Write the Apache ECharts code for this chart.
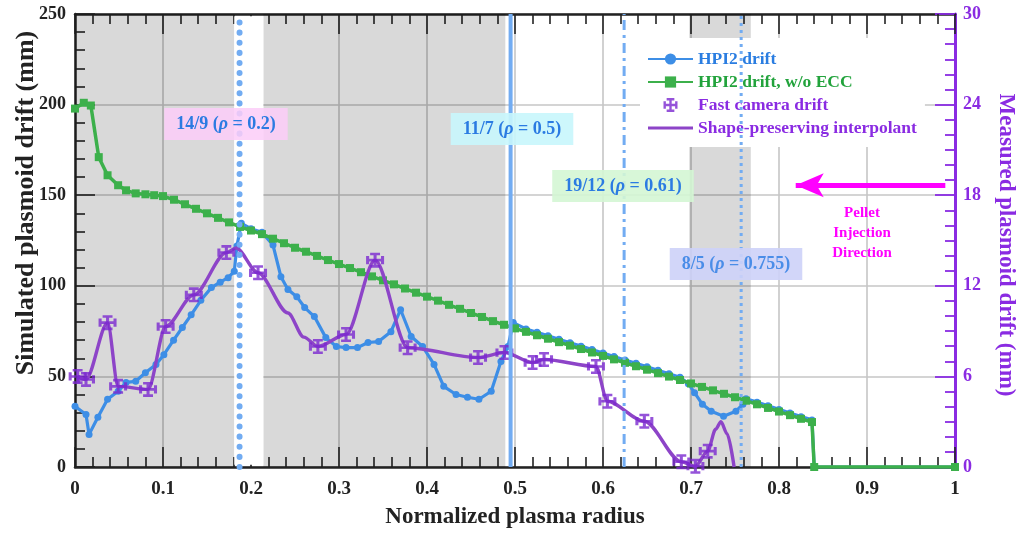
<!DOCTYPE html>
<html>
<head>
<meta charset="utf-8">
<script src="https://cdn.jsdelivr.net/npm/echarts@6/dist/echarts.min.js"></script>
<style>html,body{margin:0;padding:0;background:#fff}#c{width:1025px;height:534px}</style>
</head>
<body>
<div id="c"></div>
<script>
// ---------- data ----------
const blueX = [0,0.0125,0.016,0.026,0.037,0.049,0.058,0.069,0.08,0.092,0.101,0.112,0.122,0.132,0.143,0.155,0.165,0.174,0.181,0.184,0.189,0.2,0.2125,0.225,0.234,0.242,0.252,0.261,0.272,0.285,0.297,0.308,0.321,0.333,0.345,0.359,0.37,0.382,0.395,0.408,0.419,0.433,0.446,0.459,0.473,0.484,0.492,0.498,0.5125,0.525,0.5375,0.55,0.5625,0.575,0.5875,0.6,0.6125,0.625,0.6375,0.65,0.6625,0.675,0.6875,0.697,0.704,0.713,0.723,0.737,0.751,0.759,0.7625,0.775,0.7875,0.8,0.8125,0.825,0.8375,0.84,1];
const blueY = [33.5,29,18,27.5,37.4,41.8,46.7,47.3,52,56.6,62,70,77,84,92,99,102,104.5,108,122,134.5,131.5,129.5,122.5,105,98,94,88,83,71.4,66.5,65.9,65.9,68.7,69.2,74.7,86.8,72,66.5,56.6,44.5,40,38.5,37.4,41.8,58.2,66.5,79.7,76.2,74.3,72.4,70.5,68.6,66.7,64.8,62.9,61.0,59.1,57.2,55.3,53.4,51.5,49.5,46,41,34.6,30.8,28,30.8,34.6,37.6,35.8,33.8,31.8,29.8,27.8,26.0,0,0];

const greenX = [0,0.01,0.018,0.027,0.037,0.049,0.058,0.069,0.08,0.09,0.1,0.1125,0.125,0.1375,0.15,0.1625,0.175,0.1875,0.2,0.2125,0.225,0.2375,0.25,0.2625,0.275,0.2875,0.3,0.3125,0.325,0.3375,0.35,0.3625,0.375,0.3875,0.4,0.4125,0.425,0.4375,0.45,0.4625,0.475,0.4875,0.5,0.5125,0.525,0.5375,0.55,0.5625,0.575,0.5875,0.6,0.6125,0.625,0.6375,0.65,0.6625,0.675,0.6875,0.7,0.7125,0.725,0.7375,0.75,0.7625,0.775,0.7875,0.8,0.8125,0.825,0.8375,0.84,1];
const greenY = [197.8,201,199.5,171,161,155.5,152.7,151,150.5,150,149.5,147.5,145,142.5,140,137.5,135,132.5,130.5,128.5,126,123.5,121,118.8,116.5,114.2,112,109.8,107.5,105.2,103,100.8,98.5,96.2,94,91.8,89.5,87.3,85,82.8,80.5,78.5,76.5,74.6,72.7,70.8,68.9,67,65.1,63.2,61.3,59.4,57.5,55.6,53.7,51.8,49.9,48,46.1,44.2,42.3,40.4,38.5,36.6,34.6,32.6,30.6,28.6,26.6,24.8,0,0];

const camX = [0.003,0.0125,0.037,0.049,0.083,0.103,0.135,0.172,0.208,0.276,0.308,0.341,0.378,0.458,0.488,0.52,0.533,0.592,0.605,0.647,0.689,0.705,0.719];
const camY = [6.0,5.8,9.56,5.34,5.14,9.3,11.4,14.2,12.86,7.98,8.77,13.7,7.9,7.25,7.58,6.92,7.12,6.66,4.35,3.03,0.35,0.05,1.05];

const interpX = [0.003,0.0125,0.037,0.049,0.083,0.103,0.135,0.172,0.183,0.208,0.242,0.26,0.276,0.308,0.341,0.378,0.458,0.488,0.52,0.533,0.592,0.605,0.647,0.689,0.705,0.719,0.728,0.734,0.741,0.749];
const interpY = [6.0,5.8,9.56,5.34,5.14,9.3,11.4,14.2,14.5,12.86,10.2,8.6,7.98,8.77,13.7,7.9,7.25,7.58,6.92,7.12,6.66,4.35,3.03,0.35,0.05,1.05,2.5,3.0,2.2,0];

const shadedBands = [[0,0.181],[0.214,0.489],[0.698,0.768]];
const whiteBand = [0.181,0.214];
const surfaceX = [0.187,0.495,0.624,0.757];
const surfaceLabels = ['14/9','11/7','19/12','8/5'];
const surfaceRho = ['0.2','0.5','0.61','0.755'];
const xTicks = [0,0.1,0.2,0.3,0.4,0.5,0.6,0.7,0.8,0.9,1];
const yLeftTicks = [0,50,100,150,200,250];
const yRightTicks = [0,6,12,18,24,30];
const arrowRight = [0.989,18.66];
const arrowLeft = [0.819,18.66];

// ---------- chart ----------
const F = "'Liberation Serif','Times New Roman',serif";
const PURPLE = '#8a2be2';
const BLUE = '#3d8ee6';
const GREEN = '#3cb04b';
const CAM = '#7a28d0';
const INTERP = '#8d44c8';
const VLINE = '#72acf2';
const zip = (a,b) => a.map((v,i)=>[v,b[i]]);
const errPath = 'path://M0,8.3h20v3.4h-20z M8.3,0h3.4v20h-3.4z M4.5,0h11v3.4h-11z M4.5,16.6h11v3.4h-11z M0,4.5h3.4v11h-3.4z M16.6,4.5h3.4v11h-3.4z';
const lineIcon = 'path://M0,0h0.01v0.01h-0.01z M0,5.6h45v2.8h-45z M45,14h-0.01v-0.01h0.01z';

const blackAxis = (pos, showLabel) => ({
  type:'value', min:0, max:1, interval:0.1, position:pos,
  axisLine:{show:true, onZero:false, lineStyle:{color:'#222', width:2.5}},
  axisTick:{show:true, inside:true, length:20, lineStyle:{color:'#222', width:1.6}},
  minorTick:{show:true, splitNumber:5, length:10, lineStyle:{color:'#222', width:1.6}},
  splitLine:{show:showLabel, lineStyle:{color:'#c6c6c6', width:1.6}},
  axisLabel:{show:showLabel, color:'#222', fontFamily:F, fontWeight:'bold', fontSize:19, margin:13,
    formatter: v => { const t = xTicks.find(k=>Math.abs(k-v)<1e-6); return t===undefined? '' : String(t); }}
});

const xBottom = Object.assign(blackAxis('bottom', true), {
  name:'Normalized plasma radius', nameLocation:'middle', nameGap:39,
  nameTextStyle:{color:'#222', fontFamily:F, fontWeight:'bold', fontSize:23}
});
const xTop = blackAxis('top', false);

const vlineStyles = [
  {color:VLINE, width:6, type:[0.1,10], cap:'round'},
  {color:VLINE, width:4, type:'solid'},
  {color:VLINE, width:3, type:[10,5,3,5]},
  {color:VLINE, width:3, type:[3,4]}
];

const vlineSeries = surfaceX.map((x,i)=>({
  type:'line', name:'v'+i, xAxisIndex:0, yAxisIndex:0, silent:true, symbol:'none', z:8,
  data:[[x,0],[x,250]], lineStyle:vlineStyles[i], clip:false
}));

const option = {
  animation:false,
  backgroundColor:'#fff',
  grid:{left:75, right:70, top:14, bottom:66},
  legend:{
    orient:'vertical', left:640, top:38, padding:[12,8,10,7], itemGap:5,
    itemWidth:45, itemHeight:14, backgroundColor:'#fff', z:3,
    textStyle:{fontFamily:F, fontWeight:'bold', fontSize:17.5, lineHeight:17},
    data:[
      {name:'HPI2 drift', textStyle:{color:'#2a7de1'}},
      {name:'HPI2 drift, w/o ECC', textStyle:{color:'#22a33c'}},
      {name:'Fast camera drift', icon:errPath, textStyle:{color:PURPLE}},
      {name:'Shape-preserving interpolant', icon:lineIcon, itemStyle:{color:INTERP}, textStyle:{color:PURPLE}}
    ]
  },
  xAxis:[xBottom, xTop],
  yAxis:[
    {type:'value', min:0, max:250, interval:50, position:'left',
     axisLine:{show:true, onZero:false, lineStyle:{color:'#222', width:2.5}},
     axisTick:{show:true, inside:true, length:20, lineStyle:{color:'#222', width:1.6}},
     minorTick:{show:true, splitNumber:5, length:10, lineStyle:{color:'#222', width:1.6}},
     splitLine:{show:true, lineStyle:{color:'#c6c6c6', width:1.6}},
     axisLabel:{color:'#222', fontFamily:F, fontWeight:'bold', fontSize:18, margin:9,
       formatter: v => yLeftTicks.includes(v) ? String(v) : ''}},
    {type:'value', min:0, max:30, interval:6, position:'right',
     axisLine:{show:true, onZero:false, lineStyle:{color:PURPLE, width:3}},
     axisTick:{show:true, inside:true, length:20, lineStyle:{color:PURPLE, width:1.8}},
     minorTick:{show:true, splitNumber:6, length:10, lineStyle:{color:PURPLE, width:1.8}},
     splitLine:{show:false},
     axisLabel:{color:PURPLE, fontFamily:F, fontWeight:'bold', fontSize:18, margin:8,
       formatter: v => yRightTicks.includes(v) ? String(v) : ''}}
  ],
  series:[
    {type:'line', name:'bands', data:[], silent:true, z:1,
     markArea:{silent:true, itemStyle:{color:'rgba(0,0,0,0.15)'},
       data: shadedBands.map(b=>[{xAxis:b[0]},{xAxis:b[1]}])}},
    {type:'line', name:'gap', data:[], silent:true, z:1,
     markArea:{silent:true, itemStyle:{color:'#ffffff'},
       data:[[{xAxis:whiteBand[0], yAxis:1.3},{xAxis:whiteBand[1], yAxis:248.7}]]}},
    {type:'line', name:'HPI2 drift', z:4, data:zip(blueX,blueY), color:BLUE,
     lineStyle:{width:3.2, color:BLUE}, symbol:'circle', symbolSize:7, itemStyle:{color:BLUE}},
    {type:'line', name:'HPI2 drift, w/o ECC', z:5, data:zip(greenX,greenY), color:GREEN,
     lineStyle:{width:3.5, color:GREEN}, symbol:'rect', symbolSize:8, itemStyle:{color:GREEN}},
    {type:'line', name:'Shape-preserving interpolant', z:6, yAxisIndex:1, data:zip(interpX,interpY),
     color:INTERP, lineStyle:{width:3.4, color:INTERP}, symbol:'none', smooth:0.3, smoothMonotone:'x',
     markLine:{silent:true, symbol:['none','arrow'], symbolSize:[18,28], label:{show:false},
       lineStyle:{color:'#ff00ff', width:5, type:'solid'},
       data:[[{coord:arrowRight},{coord:arrowLeft}]]}},
    {type:'scatter', name:'Fast camera drift', z:7, yAxisIndex:1, data:zip(camX,camY),
     symbol:errPath, symbolSize:[18,15], color:CAM, itemStyle:{color:CAM}},
    ...vlineSeries
  ],
  graphic:[]
};

const boxStyle = [
  {bg:'rgba(251,205,248,0.85)', fg:'#2b7be2', cx:226, cy:124},
  {bg:'rgba(200,246,252,0.9)', fg:'#2b7be2', cx:512, cy:129},
  {bg:'rgba(212,246,212,0.9)', fg:'#2b7be2', cx:623, cy:186},
  {bg:'rgba(205,210,248,0.9)', fg:'#4a8de8', cx:736, cy:264}
];
surfaceLabels.forEach((s,i)=>{
  const b = boxStyle[i];
  const base = {fontFamily:F, fontWeight:'bold', fontSize:18, fill:b.fg};
  option.graphic.push({
    type:'text', x:b.cx, y:b.cy, z:30, silent:true,
    style:Object.assign({}, base, {
      text:'{a|'+s+' (}{i|ρ}{a| = '+surfaceRho[i]+')}',
      align:'center', verticalAlign:'middle', backgroundColor:b.bg, padding:[7,12,7,12],
      rich:{a:Object.assign({},base), i:Object.assign({},base,{fontStyle:'italic'})}
    })
  });
});
option.graphic.push({
  type:'text', x:862, y:233, z:30, silent:true,
  style:{text:'Pellet\nInjection\nDirection', align:'center', verticalAlign:'middle', lineHeight:20,
    fontFamily:F, fontWeight:'bold', fontSize:15, fill:'#ff00ff'}
});
// axis titles
option.graphic.push({
  type:'text', x:26, y:203, rotation:Math.PI/2, z:30, silent:true,
  style:{text:'Simulated plasmoid drift (mm)', align:'center', verticalAlign:'middle',
    fontFamily:F, fontWeight:'bold', fontSize:26, fill:'#222'}
});
option.graphic.push({
  type:'text', x:1006, y:245, rotation:-Math.PI/2, z:30, silent:true,
  style:{text:'Measured plasmoid drift (mm)', align:'center', verticalAlign:'middle',
    fontFamily:F, fontWeight:'bold', fontSize:23, fill:PURPLE}
});

const chart = echarts.init(document.getElementById('c'), null, {renderer:'canvas'});
chart.setOption(option);
</script>
</body>
</html>
